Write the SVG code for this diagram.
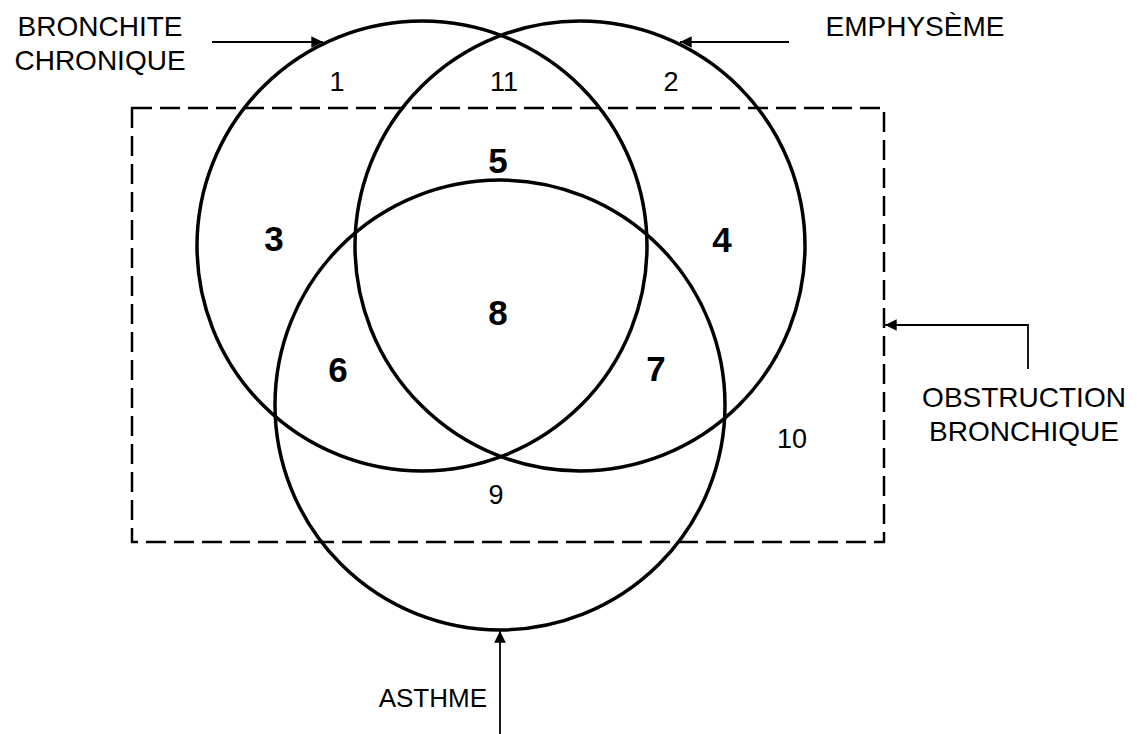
<svg xmlns="http://www.w3.org/2000/svg" width="1137" height="734" viewBox="0 0 1137 734">
<style>
.c{fill:none;stroke:#000;stroke-width:3.5}
.box{fill:none;stroke:#000;stroke-width:2.5;stroke-dasharray:20 8}
.ln{fill:none;stroke:#000;stroke-width:1.8}
.t{font-family:"Liberation Sans",Arial,sans-serif;font-size:28px;fill:#000}
.n{font-family:"Liberation Sans",Arial,sans-serif;font-size:27px;fill:#000;text-anchor:middle}
.b{font-family:"Liberation Sans",Arial,sans-serif;font-size:35px;font-weight:bold;fill:#000;text-anchor:middle}
</style>
<defs>
<marker id="ah" viewBox="0 0 10 10" refX="10" refY="5" markerWidth="8" markerHeight="6.5" markerUnits="strokeWidth" orient="auto">
<path d="M0,0 L10,5 L0,10 z" fill="#000"/>
</marker>
</defs>
<rect width="1137" height="734" fill="#fff"/>
<g id="obstruction">
<rect class="box" x="132" y="108" width="752" height="434"/>
<text class="t" x="1024" y="407" text-anchor="middle">OBSTRUCTION</text>
<text class="t" x="1024" y="441" text-anchor="middle">BRONCHIQUE</text>
<text class="n" x="792" y="448">10</text>
</g>
<g id="bronchite">
<circle class="c" cx="422" cy="246" r="225"/>
<text class="t" x="100" y="36" text-anchor="middle">BRONCHITE</text>
<text class="t" x="100" y="70" text-anchor="middle">CHRONIQUE</text>
</g>
<g id="emphyseme">
<circle class="c" cx="580" cy="246" r="225"/>
<text class="t" x="915" y="36" text-anchor="middle">EMPHYSÈME</text>
</g>
<g id="asthme">
<circle class="c" cx="500" cy="405" r="225"/>
<text class="t" x="487" y="707" text-anchor="end" style="font-size:26px">ASTHME</text>
</g>
<g id="regions">
<text class="n" x="337" y="91">1</text>
<text class="n" x="504" y="91">11</text>
<text class="n" x="671" y="91">2</text>
<text class="b" x="274" y="251">3</text>
<text class="b" x="722" y="252">4</text>
<text class="b" x="498" y="173">5</text>
<text class="b" x="498" y="325">8</text>
<text class="b" x="338" y="382">6</text>
<text class="b" x="656" y="381">7</text>
<text class="n" x="496" y="504">9</text>
</g>
<g id="connectors">
<path class="ln" d="M212,42 H323" marker-end="url(#ah)"/>
<path class="ln" d="M789,42 H680" marker-end="url(#ah)"/>
<path class="ln" d="M1028,369 V325 H885" marker-end="url(#ah)"/>
<path class="ln" d="M500,734 V631" marker-end="url(#ah)"/>
</g>
</svg>
